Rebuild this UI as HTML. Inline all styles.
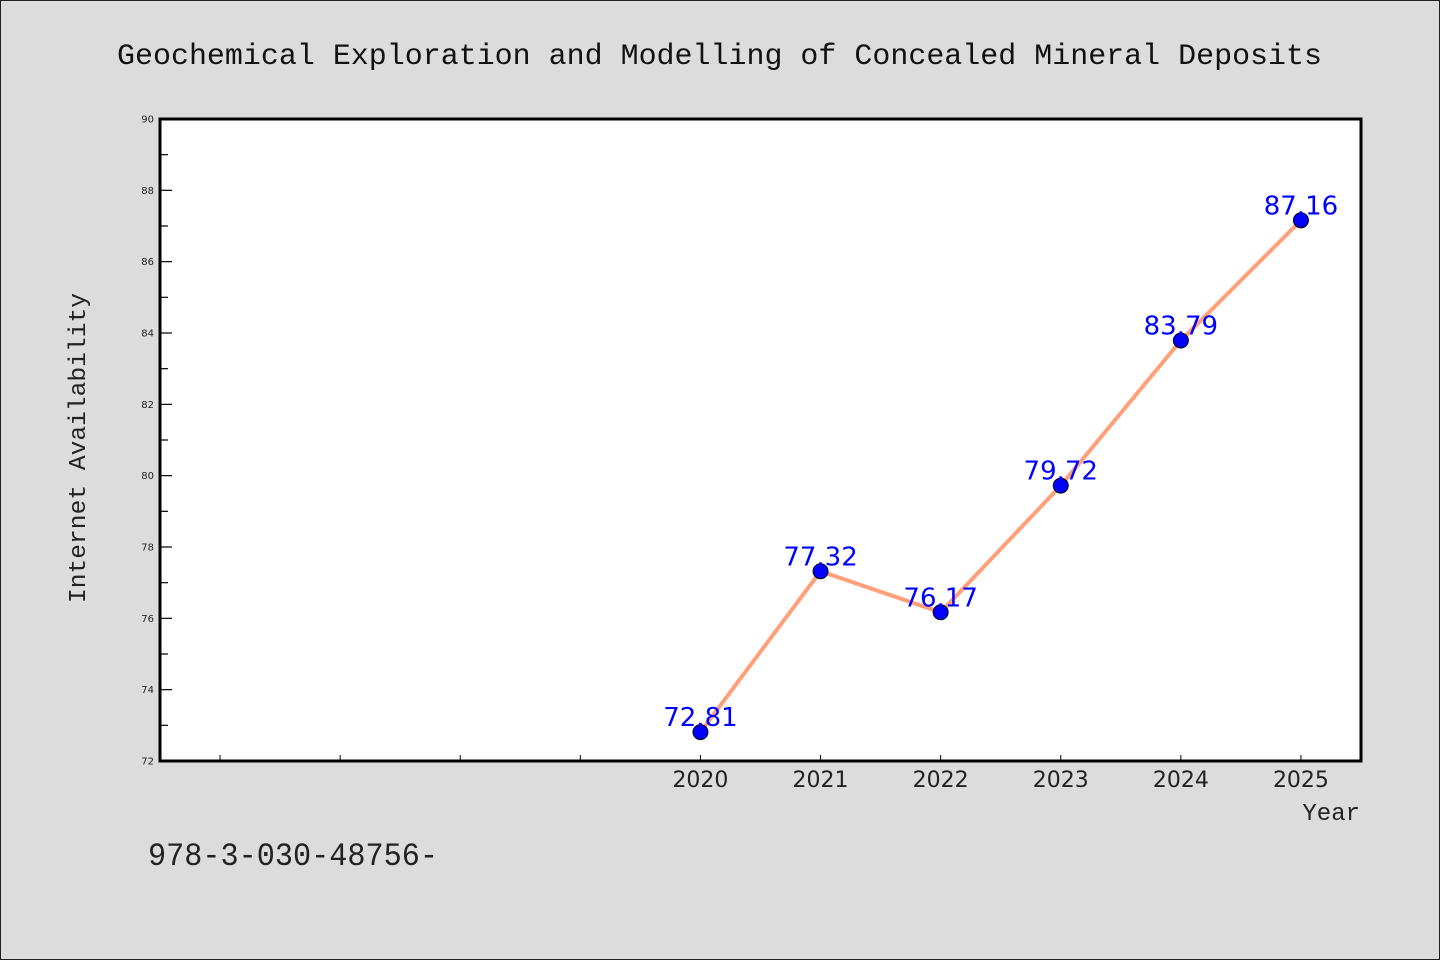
<!DOCTYPE html>
<html><head><meta charset="utf-8"><style>
html,body{margin:0;padding:0;background:#dcdcdc;}
svg{display:block;}
text{font-family:"DejaVu Sans","Liberation Sans",sans-serif;}
.mono{font-family:"WenQuanYi Zen Hei","Liberation Mono",monospace;}
</style></head><body>
<svg id="chart" width="1440" height="960">
<rect x="0.5" y="0.5" width="1439" height="959" fill="#dcdcdc" stroke="#222"/>
<text class="mono" x="117" y="64" font-size="30" fill="#111" textLength="1205" lengthAdjust="spacingAndGlyphs">Geochemical Exploration and Modelling of Concealed Mineral Deposits</text>
<rect x="160" y="119" width="1201" height="642" fill="#fff"/>
<g id="axes"></g>
<g id="series"></g>
<rect x="160" y="119" width="1201" height="642" fill="none" stroke="#000" stroke-width="3"/>
<text class="mono" x="85" y="448" font-size="24" fill="#222" text-anchor="middle" transform="rotate(-90 85 448)" textLength="310" lengthAdjust="spacingAndGlyphs">Internet Availability</text>
<text class="mono" x="1360" y="820" font-size="24" fill="#222" text-anchor="end">Year</text>
<text class="mono" x="148" y="865" font-size="32" fill="#222" textLength="290" lengthAdjust="spacingAndGlyphs">978-3-030-48756-</text>
</svg>
<script>
const years=[2020,2021,2022,2023,2024,2025];
const values=[72.81,77.32,76.17,79.72,83.79,87.16];
const yTicks=[72,74,76,78,80,82,84,86,88,90];
const xMin=2015.5,xMax=2025.5,yMin=72,yMax=90;
const L=160,R=1361,T=119,B=761;
const sx=v=>L+(v-xMin)/(xMax-xMin)*(R-L);
const sy=v=>B-(v-yMin)/(yMax-yMin)*(B-T);
const NS="http://www.w3.org/2000/svg";
const axes=document.getElementById('axes'),ser=document.getElementById('series');
function mk(tag,attrs,parent){const e=document.createElementNS(NS,tag);for(const k in attrs)e.setAttribute(k,attrs[k]);parent.appendChild(e);return e;}
for(let v=yMin;v<=yMax;v++){
  const major=v%2===0;
  const t=mk('line',{x1:L,x2:L+(major?12:8),y1:sy(v),y2:sy(v),stroke:'#000','stroke-width':1.2},axes);
  
  
}
yTicks.forEach(v=>{
  const t=mk('text',{x:L-6,y:sy(v)+3.5,'font-size':10,fill:'#222','text-anchor':'end'},axes);
  t.textContent=v;
  
  
});
for(let yr=2016;yr<=2025;yr++){
  const t=mk('line',{x1:sx(yr),x2:sx(yr),y1:B,y2:B-6,stroke:'#000','stroke-width':1},axes);
  
  
}
years.forEach(yr=>{
  const t=mk('text',{x:sx(yr),y:B+26,'font-size':22,fill:'#222','text-anchor':'middle'},axes);
  t.textContent=yr;
  
  
});
const pl=mk('polyline',{points:years.map((y,i)=>sx(y)+','+sy(values[i])).join(' '),fill:'none',stroke:'#ffa07a','stroke-width':4},ser);


years.forEach((y,i)=>{
  const c=mk('circle',{cx:sx(y),cy:sy(values[i]),r:7.5,fill:'#0000ff',stroke:'#000','stroke-width':1},ser);
  
  
});
years.forEach((y,i)=>{
  const t=mk('text',{x:sx(y),y:sy(values[i])-6,'font-size':26,fill:'#0000ff','text-anchor':'middle'},ser);
  t.textContent=values[i].toFixed(2);
  
  
});
</script>
</body></html>
